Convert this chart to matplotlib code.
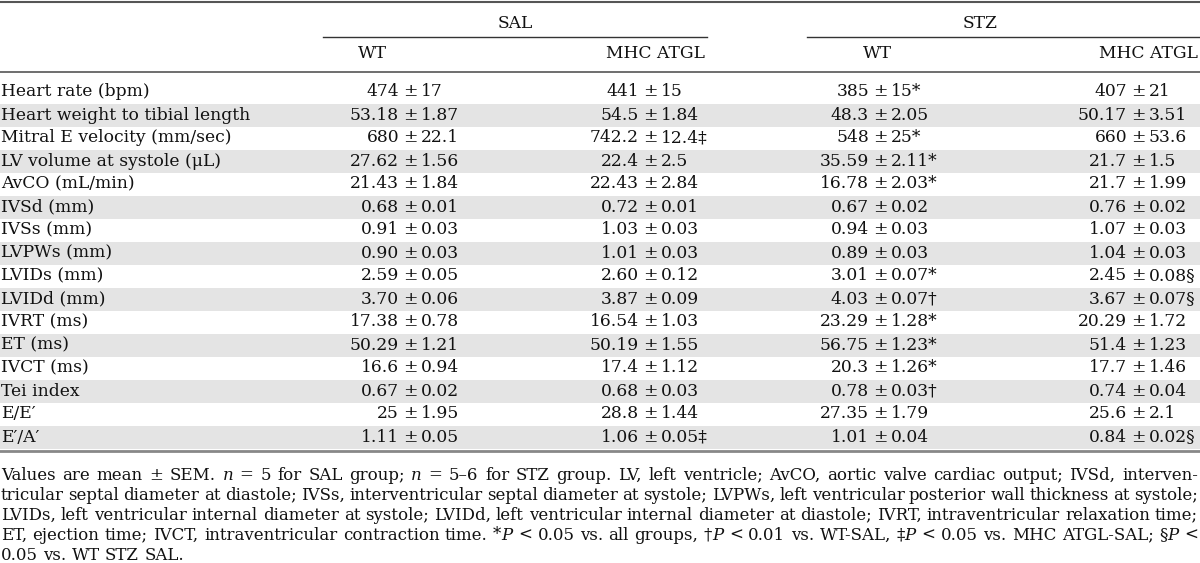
import matplotlib
matplotlib.use("Agg")
import matplotlib.pyplot as plt

# table content
params = ["Heart rate (bpm)", "Heart weight to tibial length", "Mitral E velocity (mm/sec)",
          "LV volume at systole (\u03bcL)", "AvCO (mL/min)", "IVSd (mm)", "IVSs (mm)",
          "LVPWs (mm)", "LVIDs (mm)", "LVIDd (mm)", "IVRT (ms)", "ET (ms)", "IVCT (ms)",
          "Tei index", "E/E\u2032", "E\u2032/A\u2032"]
sal_wt = ["474 ± 17", "53.18 ± 1.87", "680 ± 22.1", "27.62 ± 1.56", "21.43 ± 1.84",
          "0.68 ± 0.01", "0.91 ± 0.03", "0.90 ± 0.03", "2.59 ± 0.05", "3.70 ± 0.06",
          "17.38 ± 0.78", "50.29 ± 1.21", "16.6 ± 0.94", "0.67 ± 0.02", "25 ± 1.95",
          "1.11 ± 0.05"]
sal_mhc = ["441 ± 15", "54.5 ± 1.84", "742.2 ± 12.4‡", "22.4 ± 2.5", "22.43 ± 2.84",
           "0.72 ± 0.01", "1.03 ± 0.03", "1.01 ± 0.03", "2.60 ± 0.12", "3.87 ± 0.09",
           "16.54 ± 1.03", "50.19 ± 1.55", "17.4 ± 1.12", "0.68 ± 0.03", "28.8 ± 1.44",
           "1.06 ± 0.05‡"]
stz_wt = ["385 ± 15*", "48.3 ± 2.05", "548 ± 25*", "35.59 ± 2.11*", "16.78 ± 2.03*",
          "0.67 ± 0.02", "0.94 ± 0.03", "0.89 ± 0.03", "3.01 ± 0.07*", "4.03 ± 0.07†",
          "23.29 ± 1.28*", "56.75 ± 1.23*", "20.3 ± 1.26*", "0.78 ± 0.03†", "27.35 ± 1.79",
          "1.01 ± 0.04"]
stz_mhc = ["407 ± 21", "50.17 ± 3.51", "660 ± 53.6", "21.7 ± 1.5", "21.7 ± 1.99",
           "0.76 ± 0.02", "1.07 ± 0.03", "1.04 ± 0.03", "2.45 ± 0.08§", "3.67 ± 0.07§",
           "20.29 ± 1.72", "51.4 ± 1.23", "17.7 ± 1.46", "0.74 ± 0.04", "25.6 ± 2.1",
           "0.84 ± 0.02§"]
groups = ["SAL", "STZ"]
subgroups = ["WT", "MHC ATGL", "WT", "MHC ATGL"]

# footnote, _x_ marks italic
footnote = [
    "Values are mean ± SEM. _n_ = 5 for SAL group; _n_ = 5–6 for STZ group. LV, left ventricle; AvCO, aortic valve cardiac output; IVSd, interven-",
    "tricular septal diameter at diastole; IVSs, interventricular septal diameter at systole; LVPWs, left ventricular posterior wall thickness at systole;",
    "LVIDs, left ventricular internal diameter at systole; LVIDd, left ventricular internal diameter at diastole; IVRT, intraventricular relaxation time;",
    "ET, ejection time; IVCT, intraventricular contraction time. *_P_ < 0.05 vs. all groups, †_P_ < 0.01 vs. WT-SAL, ‡_P_ < 0.05 vs. MHC ATGL-SAL; §_P_ <",
    "0.05 vs. WT STZ SAL.",
]

W, H = 1200, 563
FONT = "DejaVu Serif"
FS = 12.3
FS_NOTE = 12.0
TXT = "#111111"

fig = plt.figure(figsize=(W / 100, H / 100), dpi=100)
ax = fig.add_axes([0, 0, 1, 1])
ax.set_xlim(0, W)
ax.set_ylim(H, 0)
ax.axis("off")
renderer = fig.canvas.get_renderer()

row_top = 80.5
row_h = 23.0
cols = [sal_wt, sal_mhc, stz_wt, stz_mhc]
pm_x = [410, 650, 880, 1138]

for i, name in enumerate(params):
    yc = row_top + (i + 0.5) * row_h
    if i % 2 == 1:
        ax.axhspan(yc - row_h / 2, yc + row_h / 2, color="#e4e4e4", lw=0, zorder=0)
    ax.text(1, yc, name, family=FONT, fontsize=FS, color=TXT, va="center", ha="left")
    for c, col in enumerate(cols):
        mean, sem = col[i].split(" ± ")
        ax.text(pm_x[c] - 11, yc, mean, family=FONT, fontsize=FS, color=TXT, va="center", ha="right")
        ax.text(pm_x[c], yc, "±", family=FONT, fontsize=FS, color=TXT, va="center", ha="center")
        ax.text(pm_x[c] + 11, yc, sem, family=FONT, fontsize=FS, color=TXT, va="center", ha="left")

# rules
bottom = row_top + len(params) * row_h + 2.5
ax.plot([0, W], [1.5, 1.5], color="#555555", lw=1.5)
ax.plot([0, W], [72, 72], color="#555555", lw=1.2)
ax.plot([0, W], [bottom, bottom], color="#888888", lw=2)
ax.plot([323, 707], [37, 37], color="#333333", lw=1)
ax.plot([807, W], [37, 37], color="#333333", lw=1)

# headers
ax.text(515, 23, groups[0], family=FONT, fontsize=FS, color=TXT, ha="center", va="center")
ax.text(980, 23, groups[1], family=FONT, fontsize=FS, color=TXT, ha="center", va="center")
for x, s, ha in zip([372, 655, 877, 1198], subgroups, ["center", "center", "center", "right"]):
    ax.text(x, 54, s, family=FONT, fontsize=FS, color=TXT, ha=ha, va="center")


def seg_words(line):
    words = []
    for w in line.split(" "):
        parts = w.split("_")
        words.append([(p, k % 2 == 1) for k, p in enumerate(parts) if p])
    return words


def width_of(s, italic):
    t = ax.text(0, 0, s, family=FONT, fontsize=FS_NOTE, style="italic" if italic else "normal")
    w = t.get_window_extent(renderer).width
    t.remove()
    return w


space_w = width_of("a a", False) - 2 * width_of("a", False)
x0, x1 = 1, 1198
for li, line in enumerate(footnote):
    y = 475 + li * 20
    words = seg_words(line)
    widths = [[width_of(s, it) for s, it in wd] for wd in words]
    total = sum(sum(w) for w in widths)
    if li < len(footnote) - 1 and len(words) > 1:
        gap = (x1 - x0 - total) / (len(words) - 1)
    else:
        gap = space_w
    x = x0
    for wd, ws in zip(words, widths):
        for (s, it), w in zip(wd, ws):
            ax.text(x, y, s, family=FONT, fontsize=FS_NOTE, color=TXT, va="center", ha="left",
                    style="italic" if it else "normal")
            x += w
        x += gap

fig.savefig("out.png", dpi=100)
